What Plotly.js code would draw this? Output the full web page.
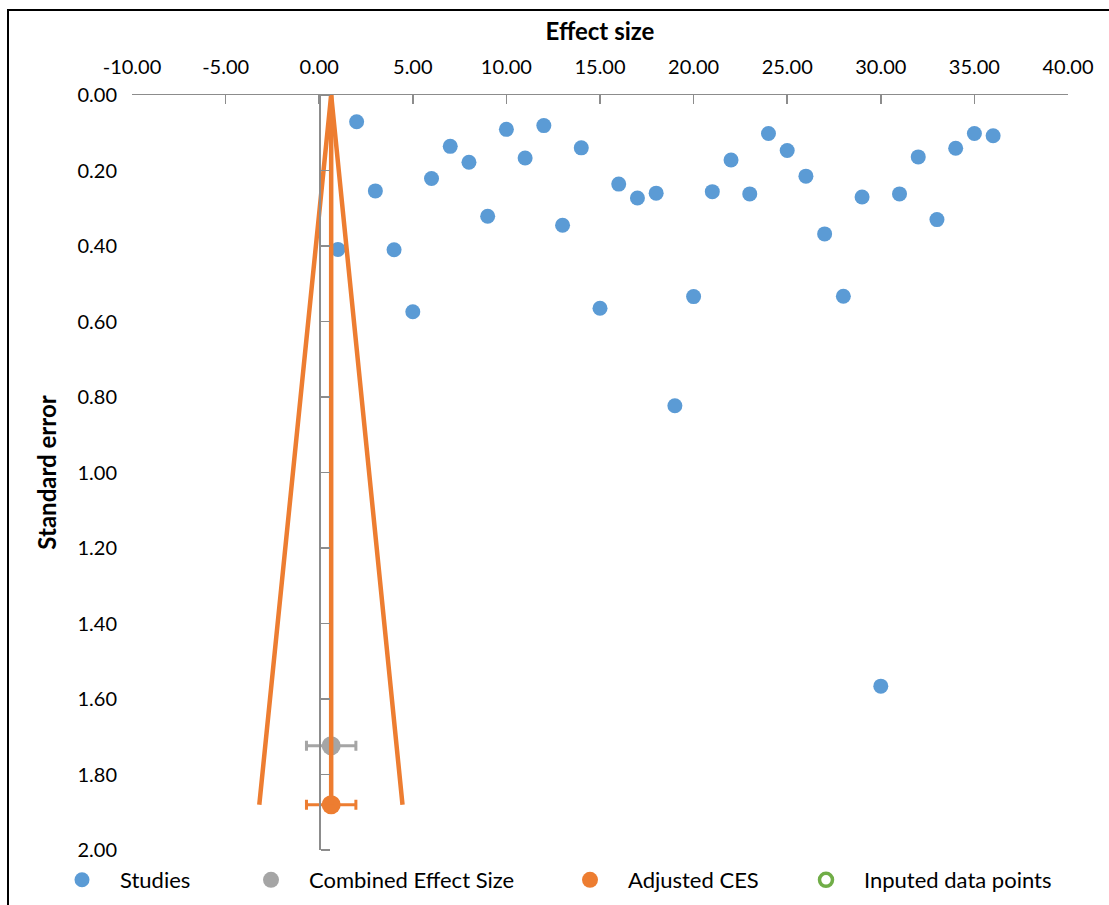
<!DOCTYPE html>
<html>
<head>
<meta charset="utf-8">
<script src="https://cdn.plot.ly/plotly-3.0.1.min.js"></script>
<style>
  html, body { margin: 0; padding: 0; background: #fff; overflow: hidden; }
  #chart { width: 1109px; height: 905px; position: absolute; left: 0; top: 0; }
  #frame { position: absolute; left: 7px; top: 9px; width: 1200px; height: 1000px;
           border: 2px solid #000; pointer-events: none; }
</style>
</head>
<body>
<div id="chart"></div>
<div id="frame"></div>
<script>
// ---- Data ----
const studyEffect = [1, 2, 3, 4, 5, 6, 7, 8, 9, 10, 11, 12, 13, 14, 15, 16, 17, 18,
                     19, 20, 21, 22, 23, 24, 25, 26, 27, 28, 29, 30, 31, 32, 33, 34, 35, 36];
const studySE = [0.409, 0.071, 0.254, 0.410, 0.574, 0.221, 0.136, 0.178, 0.321, 0.091,
                 0.167, 0.081, 0.345, 0.140, 0.565, 0.236, 0.273, 0.260, 0.823, 0.534,
                 0.256, 0.172, 0.262, 0.102, 0.147, 0.215, 0.368, 0.533, 0.270, 1.566,
                 0.262, 0.164, 0.330, 0.141, 0.102, 0.108];

const combinedEffect = [0.64];
const combinedSE = [1.724];
const combinedCI = [1.32];

const adjustedEffect = [0.64];
const adjustedSE = [1.88];
const adjustedCI = [1.32];

const funnelX = [-3.2, 0.64, 4.45];
const funnelY = [1.88, 0, 1.88];
const centerLineX = [0.64, 0.64];
const centerLineY = [0, 1.88];

// no imputed points in this chart (legend entry only)
const inputedEffect = [null];
const inputedSE = [null];

const xTicks = [-10, -5, 0, 5, 10, 15, 20, 25, 30, 35, 40];
const xTickLabels = ['-10.00', '-5.00', '0.00', '5.00', '10.00', '15.00', '20.00',
                     '25.00', '30.00', '35.00', '40.00'];
const yTicks = [0, 0.2, 0.4, 0.6, 0.8, 1.0, 1.2, 1.4, 1.6, 1.8, 2.0];
const yTickLabels = ['0.00', '0.20', '0.40', '0.60', '0.80', '1.00', '1.20', '1.40',
                     '1.60', '1.80', '2.00'];

const names = ['Studies', 'Combined Effect Size', 'Adjusted CES', 'Inputed data points'];

// ---- Style ----
const FONT = 'Lato, "Open Sans", sans-serif';
const AXIS_GREY = '#8c8c8c';
const BLUE = '#5B9BD5', GREY = '#A5A5A5', ORANGE = '#ED7D31', GREEN = '#70AD47';

const traces = [
  { x: funnelX, y: funnelY, mode: 'lines', type: 'scatter', yaxis: 'y2',
    line: { color: ORANGE, width: 4.5 }, showlegend: false, hoverinfo: 'skip' },
  { x: centerLineX, y: centerLineY, mode: 'lines', type: 'scatter', yaxis: 'y2',
    line: { color: ORANGE, width: 4.5 }, showlegend: false, hoverinfo: 'skip' },
  { x: combinedEffect, y: combinedSE, name: names[1], mode: 'markers', type: 'scatter',
    marker: { color: GREY, size: 19 }, legend: 'legend2',
    error_x: { type: 'data', array: combinedCI, color: GREY, thickness: 3, width: 5 } },
  { x: adjustedEffect, y: adjustedSE, name: names[2], mode: 'markers', type: 'scatter',
    marker: { color: ORANGE, size: 19 }, legend: 'legend3',
    error_x: { type: 'data', array: adjustedCI, color: ORANGE, thickness: 3, width: 5 } },
  { x: inputedEffect, y: inputedSE, name: names[3], mode: 'markers', type: 'scatter',
    marker: { color: GREEN, size: 13, symbol: 'circle-open', line: { color: GREEN, width: 3.5 } },
    legend: 'legend4', showlegend: true },
  { x: studyEffect, y: studySE, name: names[0], mode: 'markers', type: 'scatter',
    marker: { color: BLUE, size: 15 }, legend: 'legend' }
];

// legend boxes placed relative to the whole figure (left px -> fraction of width)
function legendAt(leftPx) {
  return { orientation: 'h', x: leftPx / 1109, xref: 'container', xanchor: 'left',
           y: 1 - 859 / 905, yref: 'container', yanchor: 'top',
           font: { family: FONT, size: 22, color: '#000' }, itemwidth: 66,
           bgcolor: 'rgba(0,0,0,0)' };
}

const layout = {
  width: 1109, height: 905,
  margin: { l: 132, r: 41, t: 95, b: 55 },
  paper_bgcolor: 'rgba(0,0,0,0)', plot_bgcolor: 'rgba(0,0,0,0)',
  font: { family: FONT, size: 18, color: '#000' },
  showlegend: true,
  legend: legendAt(44),
  legend2: legendAt(233),
  legend3: legendAt(552),
  legend4: legendAt(788),
  xaxis: {
    side: 'top', range: [-10, 40], tickvals: xTicks, ticktext: xTickLabels,
    ticks: 'inside', ticklen: 9, tickwidth: 1.5, tickcolor: AXIS_GREY,
    showline: true, linecolor: AXIS_GREY, linewidth: 1.5,
    showgrid: false, zeroline: false, ticklabelstandoff: 12,
    tickfont: { family: FONT, size: 20 },
    title: { text: '<b>Effect size</b>', font: { family: FONT, size: 24 }, standoff: 6 }
  },
  yaxis: {
    range: [2, 0], tickvals: yTicks, ticktext: yTickLabels,
    ticks: '', showline: false, showgrid: false, zeroline: false,
    ticklabelstandoff: 14, tickfont: { family: FONT, size: 20 },
    title: { text: '<b>Standard error</b>', font: { family: FONT, size: 24 }, standoff: 14 }
  },
  yaxis2: {
    overlaying: 'y', anchor: 'free', position: 0.2, side: 'right',
    range: [2, 0], tickvals: yTicks, showticklabels: false,
    ticks: 'outside', ticklen: 9, tickwidth: 1.5, tickcolor: AXIS_GREY,
    showline: true, linecolor: AXIS_GREY, linewidth: 1.5,
    showgrid: false, zeroline: false
  }
};

Plotly.newPlot('chart', traces, layout, { displayModeBar: false, staticPlot: true });
</script>
</body>
</html>
